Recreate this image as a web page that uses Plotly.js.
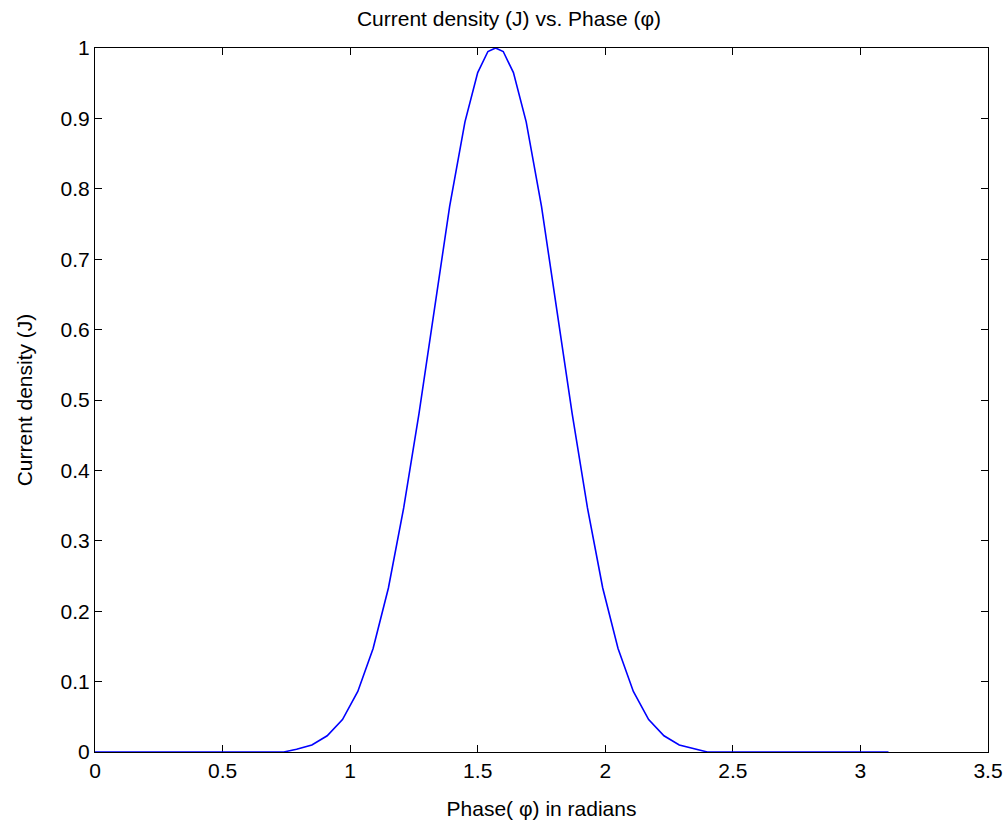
<!DOCTYPE html>
<html>
<head>
<meta charset="utf-8">
<script src="https://cdn.plot.ly/plotly-3.0.1.min.js"></script>
<style>html,body{margin:0;padding:0;background:#fff;}#chart{width:1005px;height:828px;}</style>
</head>
<body>
<div id="chart"></div>
<script>
// Phase (radians)
const phase = [0, 0.74, 0.79, 0.85, 0.91, 0.97, 1.03, 1.09, 1.15, 1.21, 1.27, 1.33, 1.39, 1.45, 1.50, 1.54, 1.57,
               1.60, 1.64, 1.69, 1.75, 1.81, 1.87, 1.93, 1.99, 2.05, 2.11, 2.17, 2.23, 2.29, 2.35, 2.40, 3.11];
// Current density (J)
const currentDensity = [0, 0, 0.004, 0.010, 0.023, 0.046, 0.086, 0.147, 0.233, 0.347, 0.481, 0.628, 0.775, 0.895, 0.965, 0.995, 1.0,
                        0.995, 0.965, 0.895, 0.775, 0.628, 0.481, 0.347, 0.233, 0.147, 0.086, 0.046, 0.023, 0.010, 0.004, 0, 0];
const xTicks = [0, 0.5, 1, 1.5, 2, 2.5, 3, 3.5];
const xTickText = ['0', '0.5', '1', '1.5', '2', '2.5', '3', '3.5'];
const yTicks = [0, 0.1, 0.2, 0.3, 0.4, 0.5, 0.6, 0.7, 0.8, 0.9, 1];
const yTickText = ['0', '0.1', '0.2', '0.3', '0.4', '0.5', '0.6', '0.7', '0.8', '0.9', '1'];

const FONT = '"Liberation Sans", Arial, Helvetica, sans-serif';

const trace = {
  x: phase, y: currentDensity, type: 'scatter', mode: 'lines',
  line: {color: '#0000ff', width: 1.6}, hoverinfo: 'skip'
};

const axisCommon = {
  showgrid: false, zeroline: false, showline: true, linecolor: '#000', linewidth: 1,
  mirror: 'ticks', ticks: 'inside', ticklen: 7, tickcolor: '#000', tickwidth: 1,
  tickfont: {family: FONT, size: 21, color: '#000'}, layer: 'below traces', fixedrange: true
};

const layout = {
  width: 1005, height: 828,
  margin: {l: 95, r: 17, t: 48, b: 76},
  paper_bgcolor: '#fff', plot_bgcolor: '#fff',
  showlegend: false,
  title: {text: 'Current density (J) vs. Phase (φ)', font: {family: FONT, size: 21, color: '#000'},
          x: 0.4636, xref: 'paper', xanchor: 'center', y: 0.978, yref: 'container', yanchor: 'middle'},
  xaxis: Object.assign({}, axisCommon, {
    range: [0, 3.5], tickvals: xTicks, ticktext: xTickText,
    title: {text: 'Phase( φ) in radians', font: {family: FONT, size: 21, color: '#000'}, standoff: 20}
  }),
  yaxis: Object.assign({}, axisCommon, {
    range: [0, 1], tickvals: yTicks, ticktext: yTickText,
    title: {text: 'Current density (J)', font: {family: FONT, size: 21, color: '#000'}, standoff: 22}
  })
};

Plotly.newPlot('chart', [trace], layout, {displayModeBar: false, staticPlot: true});
</script>
</body>
</html>
